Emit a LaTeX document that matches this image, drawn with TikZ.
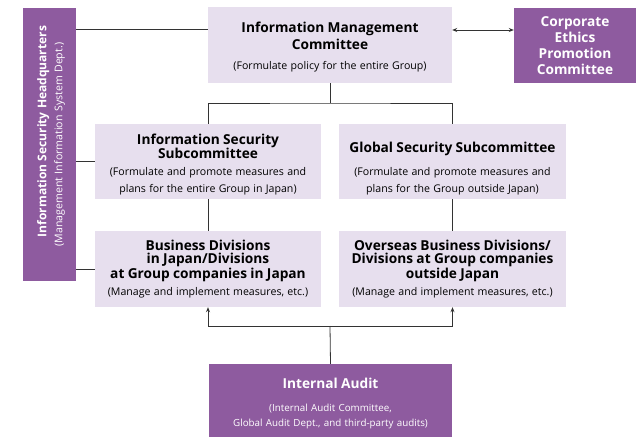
\documentclass[tikz,border=0pt]{standalone}
\usepackage{fontspec}
\setmainfont{Open Sans}
\usepackage{tikz}
\usetikzlibrary{arrows.meta}

\definecolor{purp}{HTML}{8E5B9F}
\definecolor{lav}{HTML}{E7DFEE}
\definecolor{linegray}{HTML}{333333}

\newcommand{\ttl}{\fontsize{13.7}{13}\selectfont\bfseries}
\newcommand{\subtxt}{\fontsize{10.6}{17}\selectfont\mdseries}
% strut that pushes the text block down inside its box
\newcommand{\pushdown}[1]{\rule{0pt}{#1pt}}
\lineskiplimit=-20pt

\begin{document}
\begin{tikzpicture}[x=1pt, y=-1pt]
        \tikzstyle{lbox}=[fill=lav, align=center, inner sep=0pt, text width=222pt, minimum width=226pt, minimum height=75pt];
        \tikzstyle{pbox}=[fill=purp, text=white, align=center, inner sep=0pt];
        \tikzstyle{conn}=[draw=linegray, line width=0.8pt];
        \tikzstyle{arr}=[-{Stealth[length=5pt, width=4pt]}];
        \useasboundingbox (0,0) rectangle (641,437);

        % boxes
        \node[lbox, text width=240pt, minimum width=244pt, minimum height=76pt] (imc) at (330,45)
            {{\fontsize{13.7}{17}\selectfont\bfseries\pushdown{15.4}Information Management\\ Committee\par}
             \vspace{3pt}{\subtxt (Formulate policy for the entire Group)\par}};
        \node[pbox, text width=118pt, minimum width=122pt, minimum height=75pt] (ethics) at (575,45.5)
            {\fontsize{13.7}{16}\selectfont\bfseries Corporate\\ Ethics\\ Promotion\\ Committee\par};
        \node[pbox, rotate=90, text width=265pt, minimum width=273pt, minimum height=53pt] (hq) at (49.5,144.5)
            {{\fontsize{12}{16}\selectfont\bfseries\pushdown{12.1}\hspace*{26pt}Information Security Headquarters\par}
             {\fontsize{10.6}{16}\selectfont (Management Information System Dept.)\par}};

        \node[lbox] (iss) at (208,161.5)
            {{\ttl\pushdown{16.4}Information Security\\ Subcommittee\par}
             {\subtxt (Formulate and promote measures and\\ plans for the entire Group in Japan)\par}};
        \node[lbox, minimum width=227pt] (gss) at (452.5,161.5)
            {{\ttl\pushdown{24.4}Global Security Subcommittee\par}
             \vspace{6pt}{\subtxt (Formulate and promote measures and\\ plans for the Group outside Japan)\par}};

        \node[lbox, minimum height=76pt] (bdj) at (208,269)
            {{\ttl Business Divisions\\ in Japan/Divisions\\ at Group companies in Japan\par}
             {\subtxt (Manage and implement measures, etc.)\par}};
        \node[lbox, minimum width=227pt, minimum height=76pt] (obd) at (452.5,269)
            {{\ttl Overseas Business Divisions/\\ Divisions at Group companies\\ outside Japan\par}
             {\subtxt (Manage and implement measures, etc.)\par}};

        \node[pbox, text width=239pt, minimum width=243pt, minimum height=74pt] (audit) at (330.5,401)
            {{\fontsize{13.7}{14}\selectfont\bfseries\pushdown{14.4}Internal Audit\par}
             \vspace{8pt}{\fontsize{9.8}{15}\selectfont (Internal Audit Committee,\\ Global Audit Dept., and third-party audits)\par}};

        \coordinate (fork) at (330,103);
        \coordinate (join) at (330,326);

        % connectors
        \draw[conn] ([yshift=16pt]imc.west) -- ([yshift=16pt]imc.west -| hq.south);
        \draw[conn, {Stealth[length=5pt, width=4pt]}-{Stealth[length=5pt, width=4pt]}]
            ([yshift=15pt]imc.east) -- ([yshift=15pt]imc.east -| ethics.west);
        \draw[conn] (imc.south) -- (fork);
        \draw[conn] (iss.north) |- (fork) -| (gss.north);
        \draw[conn] (iss.west) -- (iss.west -| hq.south);
        \draw[conn] (bdj.west) -- (bdj.west -| hq.south);
        \draw[conn] (iss.south) -- (bdj.north);
        \draw[conn] (gss.south) -- (obd.north);
        \draw[conn] (audit.north) -- (join);
        \draw[conn, arr] (join) -| (bdj.south);
        \draw[conn, arr] (join) -| (obd.south);
    \end{tikzpicture}
\end{document}
